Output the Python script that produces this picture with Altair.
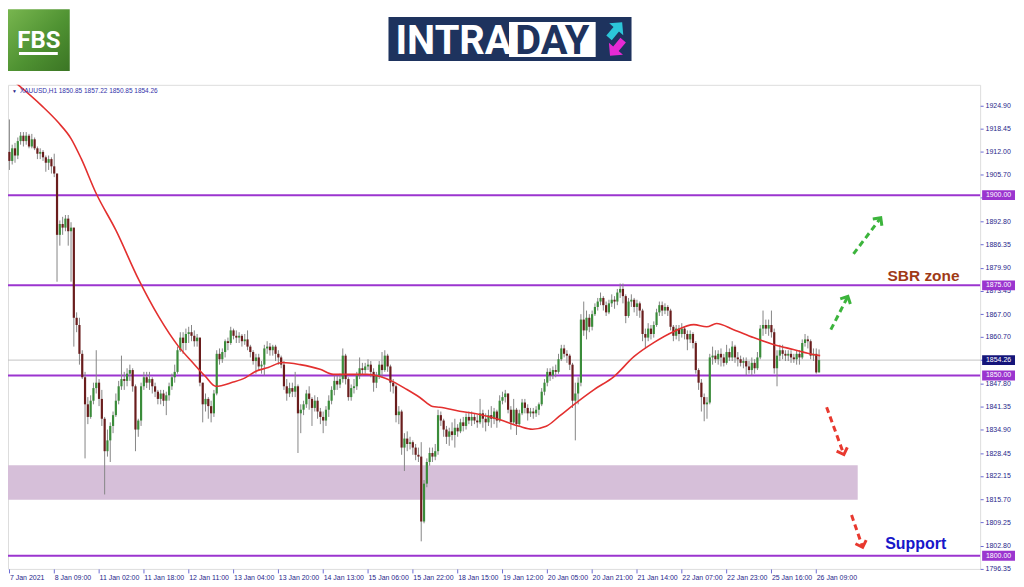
import math
import altair as alt
import pandas as pd

# ---------------- data ----------------
first_open = 1912.0
closes = [
    1909.5, 1913, 1911, 1915, 1916.5, 1915, 1916.5, 1913.5, 1915.5, 1913,
    1911.5, 1912, 1910.5, 1909, 1910, 1908, 1906, 1889, 1892, 1891,
    1893.5, 1890, 1891, 1866, 1864, 1856, 1849.5, 1842, 1838.5, 1843,
    1846.5, 1848, 1843.5, 1838, 1829, 1832, 1836, 1839, 1843, 1847,
    1849, 1848.5, 1850.5, 1851.5, 1847, 1835, 1837.5, 1847, 1849.5, 1848,
    1849, 1847, 1845.5, 1843.5, 1845, 1843, 1844.5, 1847, 1849.5, 1851,
    1857, 1860.5, 1859, 1861.5, 1862, 1861, 1859.5, 1860.5, 1848, 1842,
    1843.5, 1841.5, 1839.5, 1845, 1856, 1854.5, 1856.5, 1859.5, 1859, 1862.5,
    1861, 1860.5, 1861, 1859.5, 1860, 1858, 1856.5, 1854, 1855, 1852.5,
    1853, 1857.5, 1858, 1857, 1858, 1856, 1855, 1853, 1847, 1845,
    1846.5, 1845.5, 1847, 1839.5, 1840.5, 1842, 1845, 1843.5, 1841, 1843,
    1840, 1838.5, 1837.5, 1840.5, 1843, 1846, 1848.5, 1847.5, 1849, 1855.5,
    1849, 1844, 1846.5, 1847, 1850, 1852, 1851.5, 1852.5, 1853, 1851,
    1848, 1850, 1853, 1851.5, 1855.5, 1852.5, 1848, 1847, 1839, 1840,
    1830, 1832.5, 1831, 1831.5, 1830, 1828, 1827.5, 1809.5, 1820, 1826,
    1828.5, 1827.5, 1829, 1839, 1837.5, 1835, 1833, 1834.5, 1833.5, 1835.5,
    1834.5, 1837, 1836, 1838.5, 1837.5, 1838.5, 1837.5, 1837, 1839.5, 1838,
    1837, 1839, 1838, 1840, 1837.5, 1843, 1844, 1845, 1840.5, 1837,
    1840.5, 1836.5, 1839.5, 1842.5, 1841, 1839.5, 1840, 1839.5, 1840.5, 1842,
    1845.5, 1848, 1851, 1850, 1851.5, 1851, 1854.5, 1857.5, 1856, 1855.5,
    1853, 1843, 1845, 1848, 1865.5, 1862.5, 1866, 1863.5, 1867, 1869,
    1870.5, 1871.5, 1869.5, 1867.5, 1870, 1871, 1870.5, 1873, 1874, 1872,
    1866.5, 1870.5, 1871, 1869, 1870, 1868, 1861.5, 1860.5, 1863, 1861.5,
    1864, 1867.5, 1869.5, 1868, 1869, 1868, 1863.5, 1861, 1863, 1861.5,
    1863, 1861.5, 1860, 1861.5, 1859, 1851.5, 1848, 1844, 1842, 1842.5,
    1855, 1855.5, 1854.5, 1856, 1855, 1853.5, 1856.5, 1855, 1858, 1855,
    1854.5, 1853.5, 1854, 1852.5, 1851.5, 1853.5, 1852, 1855, 1863, 1864,
    1863, 1864, 1862, 1852, 1855.5, 1857, 1856, 1855.5, 1856, 1855,
    1854.5, 1856, 1855, 1859, 1860, 1859.5, 1855.5, 1856, 1850.85, 1854.26,
]
highs = [
    1921, 1914, 1914.5, 1916, 1917.5, 1917.5, 1917.5, 1917, 1917, 1916,
    1913.5, 1913, 1912.5, 1911, 1911, 1910.5, 1911.5, 1906, 1893, 1894,
    1894.5, 1894.5, 1892.5, 1891, 1867.5, 1866, 1857, 1851, 1844, 1844.5,
    1848, 1857, 1849, 1846, 1838.5, 1835, 1837, 1840, 1845, 1848.5,
    1855.5, 1851, 1852, 1853, 1852, 1847.5, 1838, 1848, 1851, 1851,
    1851, 1849.5, 1848, 1846, 1846, 1846, 1845.5, 1848, 1850.5, 1853,
    1858, 1862, 1862, 1863, 1863.5, 1864, 1862.5, 1861.5, 1860.5, 1848,
    1845, 1844, 1843, 1846, 1857, 1857.5, 1857.5, 1860, 1860.5, 1863.5,
    1863, 1862.5, 1862, 1861.5, 1861.5, 1862.5, 1858.5, 1857, 1856, 1856,
    1854, 1858.5, 1859.5, 1859, 1858.5, 1858.5, 1857, 1855.5, 1854, 1849,
    1848, 1848, 1851, 1847.5, 1842, 1843, 1846, 1847, 1844, 1844.5,
    1844, 1841, 1840, 1841.5, 1844.5, 1847, 1850, 1850, 1850.5, 1857.5,
    1856, 1849.5, 1847.5, 1849, 1851, 1855, 1853.5, 1853.5, 1854.5, 1854,
    1852, 1851, 1854, 1856.5, 1857, 1856, 1853, 1849, 1847.5, 1841.5,
    1840.5, 1834, 1834.5, 1833, 1832, 1831, 1830, 1831.5, 1821, 1827,
    1830, 1830, 1831, 1840.5, 1840, 1838, 1836, 1835.5, 1837, 1838,
    1836.5, 1838, 1838.5, 1839.5, 1840, 1840, 1839.5, 1839, 1843.5, 1840.5,
    1839.5, 1840.5, 1841.5, 1841, 1840.5, 1844.5, 1845.5, 1846, 1845, 1841.5,
    1843.5, 1841, 1840.5, 1843.5, 1843.5, 1842, 1841, 1841, 1841.5, 1842.5,
    1846.5, 1849, 1852, 1852, 1852.5, 1853, 1856, 1858.5, 1858.5, 1857,
    1856, 1853.5, 1848, 1849.5, 1867, 1870.5, 1868, 1867, 1868, 1870,
    1871.5, 1873, 1872, 1870.5, 1871, 1872.5, 1872, 1874, 1875.5, 1875.5,
    1872.5, 1871.5, 1872.5, 1871.5, 1871, 1870.5, 1868.5, 1863, 1864.5, 1864,
    1865, 1868.5, 1870.5, 1870.5, 1870, 1869.5, 1868.5, 1864, 1864, 1864,
    1864.5, 1863.5, 1862.5, 1862.5, 1862, 1859.5, 1852, 1849, 1845, 1844,
    1856, 1858, 1857, 1857, 1857.5, 1856, 1858.5, 1857.5, 1859.5, 1858.5,
    1856.5, 1855.5, 1855, 1855, 1854, 1855, 1854.5, 1856.5, 1864, 1868,
    1865.5, 1865.5, 1868, 1863, 1857, 1858.5, 1858.5, 1857, 1857, 1857,
    1856, 1857, 1857, 1860, 1861.5, 1861, 1860, 1857.5, 1857.5, 1857.22,
]
lows = [
    1907, 1908.5, 1909, 1910, 1914, 1913.5, 1914, 1913, 1913, 1912.5,
    1910, 1910, 1909.5, 1906.5, 1907, 1906, 1905, 1876, 1886, 1889,
    1890, 1886, 1876, 1858, 1862, 1853, 1849, 1827, 1836.5, 1838,
    1842, 1845, 1841.5, 1836, 1817, 1827.5, 1826, 1834, 1838.5, 1842,
    1846, 1846, 1847, 1848.5, 1845.5, 1829, 1833, 1836, 1846, 1846.5,
    1846, 1845, 1844, 1842, 1842, 1841.5, 1839, 1843, 1846, 1848,
    1850.5, 1856.5, 1856, 1857, 1859, 1859.5, 1858, 1858, 1847, 1837,
    1840, 1838, 1837, 1838.5, 1844.5, 1853, 1853.5, 1855, 1857, 1858.5,
    1860, 1859, 1859, 1858, 1858.5, 1857, 1855, 1853, 1850.5, 1851.5,
    1850.5, 1850, 1856, 1855.5, 1855.5, 1854, 1853, 1852, 1846, 1843,
    1844, 1844, 1844, 1828.5, 1834, 1839, 1841, 1840.5, 1836, 1840,
    1838, 1836.5, 1834, 1836, 1838.5, 1842, 1844.5, 1846, 1846.5, 1848,
    1847.5, 1843, 1843, 1845, 1846, 1849, 1850, 1850.5, 1851.5, 1849.5,
    1845.5, 1846.5, 1849, 1849.5, 1851, 1851, 1845.5, 1845, 1837, 1836.5,
    1828, 1823.5, 1829, 1829.5, 1828, 1826.5, 1826, 1804, 1809, 1819,
    1825, 1826, 1826.5, 1828, 1836, 1833, 1831, 1830.5, 1832, 1830,
    1833, 1834, 1834.5, 1835, 1836.5, 1836, 1836.5, 1835.5, 1836.5, 1835.5,
    1834.5, 1836, 1835.5, 1836.5, 1835.5, 1837, 1842, 1842.5, 1839.5, 1835,
    1836.5, 1833.5, 1836, 1839, 1839.5, 1837.5, 1838.5, 1838, 1838.5, 1839,
    1841.5, 1844.5, 1847, 1848.5, 1849, 1849.5, 1850.5, 1854, 1855, 1853.5,
    1851.5, 1841, 1832, 1842, 1847, 1861, 1860, 1862, 1862.5, 1866.5,
    1868, 1869.5, 1868, 1866.5, 1867, 1869, 1868.5, 1869.5, 1871.5, 1870,
    1864.5, 1866, 1869, 1867.5, 1866.5, 1866, 1859.5, 1857.5, 1859.5, 1860,
    1860.5, 1863.5, 1866.5, 1866.5, 1867, 1866.5, 1862.5, 1859.5, 1860, 1859.5,
    1860.5, 1860, 1857, 1859, 1857.5, 1850.5, 1846, 1840, 1837.3, 1838,
    1842, 1853, 1853.5, 1853, 1852.5, 1852.5, 1853, 1854, 1854, 1853.5,
    1852.5, 1852.5, 1852, 1850, 1850.5, 1850, 1850.5, 1851.5, 1854.5, 1861,
    1861.5, 1861, 1860.5, 1850.5, 1847, 1854, 1854.5, 1854, 1854, 1853.5,
    1853.5, 1853, 1853, 1854.5, 1858, 1857.5, 1854.5, 1854, 1850.5, 1850.85,
]
x_labels = [
    "7 Jan 2021", "8 Jan 09:00", "11 Jan 02:00", "11 Jan 18:00", "12 Jan 11:00",
    "13 Jan 04:00", "13 Jan 20:00", "14 Jan 13:00", "15 Jan 06:00", "15 Jan 22:00",
    "18 Jan 15:00", "19 Jan 12:00", "20 Jan 05:00", "20 Jan 21:00", "21 Jan 14:00",
    "22 Jan 07:00", "22 Jan 23:00", "25 Jan 16:00", "26 Jan 09:00",
]
x_label_bars = [0, 16, 32, 48, 64, 80, 96, 112, 128, 144, 160, 176, 192, 208,
                224, 240, 256, 272, 288]
y_ticks = [1924.90, 1918.45, 1912.00, 1905.70, 1899.25, 1892.80, 1886.35, 1879.90,
           1873.45, 1867.00, 1860.70, 1854.25, 1847.80, 1841.35, 1834.90, 1828.45,
           1822.15, 1815.70, 1809.25, 1802.80, 1796.35]
ma_bar = [2.5, 11.4, 17.4, 22, 25.6, 30.9, 38, 46.2, 53.3, 60.4, 65.4, 70, 73.6,
          79.6, 84.3, 87.8, 92.4, 97.4, 103.8, 110.9, 115.6, 120.5, 127.6, 132.3,
          136.9, 141.9, 146.5, 151.1, 153.6, 160.7, 167.8, 174.9, 182, 186.7, 191.6,
          196.3, 201.6, 208.7, 215.8, 222.9, 230, 237.2, 244.3, 248.9, 252.4, 258.5,
          265.6, 272.7, 279.8, 286.9, 289.4]
ma_val = [1931.0, 1924.9, 1920.2, 1915.7, 1910.2, 1900.6, 1890.3, 1876.5, 1866.3,
          1858.0, 1853.6, 1849.7, 1847.0, 1848.1, 1849.4, 1851.1, 1852.2, 1853.6,
          1853.0, 1851.7, 1850.3, 1850.3, 1850.3, 1849.7, 1848.3, 1846.1, 1843.9,
          1841.4, 1841.2, 1840.1, 1839.2, 1837.8, 1835.9, 1835.1, 1835.9, 1838.7,
          1842.0, 1846.1, 1849.7, 1855.2, 1859.1, 1862.2, 1864.1, 1863.5, 1864.4,
          1862.7, 1860.5, 1858.6, 1857.2, 1855.8, 1855.5]
levels = [1900.0, 1875.0, 1850.0, 1800.0]
last_price = 1854.26
zone_low = 1815.5
zone_high = 1825.1
zone_start_bar = -0.5
zone_end_bar = 302.8
arrow_x1 = [293.2, 301.3, 291.7, 300.6]
arrow_y1 = [1862.7, 1883.7, 1841.2, 1811.3]
arrow_x2 = [299.2, 310.9, 297.8, 304.5]
arrow_y2 = [1871.8, 1893.6, 1828.2, 1802.5]
arrow_kind = ["up", "up", "down", "down"]
sbr_text = "SBR zone"
sbr_bar, sbr_price = 326.3, 1877.6
support_text = "Support"
support_bar, support_price = 323.5, 1803.3
header_text = "XAUUSD,H1  1850.85 1857.22 1850.85 1854.26"

# ---------------- layout constants ----------------
W, H = 976, 486
X_DOM = [-0.5, 346.5]
Y_DOM = [1796.35, 1930.6]
FRAME = "#6b6bd6"
NAVY = "#1f1f8a"
PURPLE = "#9b35cf"
FONT = "Liberation Sans"

opens = [first_open] + closes[:-1]
candles = pd.DataFrame({
    "bar": list(range(len(closes))),
    "open": opens, "high": highs, "low": lows, "close": closes,
})

xs = alt.Scale(domain=X_DOM, nice=False, zero=False)
ys = alt.Scale(domain=Y_DOM, nice=False, zero=False)

label_array = "[" + ",".join("'" + s + "'" for s in x_labels) + "]"
bars_array = "[" + ",".join(str(v) for v in x_label_bars) + "]"
x_axis = alt.Axis(values=x_label_bars,
                  labelExpr=label_array + "[indexof(" + bars_array + ", datum.value)]",
                  labelAlign="left", labelFontSize=7, labelColor=NAVY, labelFont=FONT,
                  tickSize=4, tickColor=FRAME, labelPadding=1, labelOverlap=False,
                  labelFlush=False, grid=False, domain=False, title=None)
y_axis = alt.Axis(orient="right", values=y_ticks, format=".2f", labelFontSize=7,
                  labelColor=NAVY, labelFont=FONT, tickSize=3, tickColor=FRAME,
                  labelPadding=2, labelOverlap=False, grid=False, domain=False,
                  title=None)


def Xn(f):
    return alt.X(f, scale=xs, axis=x_axis)


def Yn(f):
    return alt.Y(f, scale=ys, axis=y_axis)


# zone
zone_df = pd.DataFrame({"x1": [zone_start_bar], "x2": [zone_end_bar],
                        "lo": [zone_low], "hi": [zone_high]})
zone = alt.Chart(zone_df).mark_rect(color="#d6bfd9").encode(
    x=Xn("x1:Q"), x2="x2:Q", y=Yn("lo:Q"), y2="hi:Q")

lv_df = pd.DataFrame({"level": levels})
level_lines = alt.Chart(lv_df).mark_rule(color=PURPLE, strokeWidth=2).encode(
    y=Yn("level:Q"))
lp_df = pd.DataFrame({"level": [last_price]})
last_line = alt.Chart(lp_df).mark_rule(color="#c4c4c4", strokeWidth=1).encode(
    y=Yn("level:Q"))

wicks = alt.Chart(candles).mark_rule(color="#858585", strokeWidth=1).encode(
    x=Xn("bar:Q"), y=Yn("low:Q"), y2="high:Q")
bodies = alt.Chart(candles).mark_rule(strokeWidth=2.2, strokeCap="butt").encode(
    x=Xn("bar:Q"), y=Yn("open:Q"), y2="close:Q",
    color=alt.condition("datum.close >= datum.open", alt.value("#3a8c3a"),
                        alt.value("#6a1d1d")))

ma_df = pd.DataFrame({"bar": ma_bar, "val": ma_val})
ma = alt.Chart(ma_df).mark_line(color="#e3302f", strokeWidth=1.6, clip=True,
                                interpolate="monotone").encode(
    x=Xn("bar:Q"), y=Yn("val:Q"))

ppb = W / (X_DOM[1] - X_DOM[0])
ppp = H / (Y_DOM[1] - Y_DOM[0])
angles = [math.degrees(math.atan2((b - a) * ppb, (d - c) * ppp))
          for a, b, c, d in zip(arrow_x1, arrow_x2, arrow_y1, arrow_y2)]
ar_df = pd.DataFrame({"x1": arrow_x1, "y1": arrow_y1, "x2": arrow_x2,
                      "y2": arrow_y2, "kind": arrow_kind, "angle": angles})
ar_color = alt.Color("kind:N", scale=alt.Scale(domain=["up", "down"],
                                               range=["#3cb43c", "#e8392f"]),
                     legend=None)
arrow_lines = alt.Chart(ar_df).mark_rule(strokeWidth=3, strokeDash=[6, 4]).encode(
    x=Xn("x1:Q"), y=Yn("y1:Q"), x2="x2:Q", y2="y2:Q", color=ar_color)
arrow_heads = alt.Chart(ar_df).mark_point(
    shape="M -1 0.9 L 0 -0.1 L 1 0.9", filled=False, strokeWidth=3, size=130,
    opacity=1).encode(x=Xn("x2:Q"), y=Yn("y2:Q"), color=ar_color,
                      angle=alt.Angle("angle:Q", scale=None))

sbr = alt.Chart(pd.DataFrame({"b": [sbr_bar], "p": [sbr_price], "t": [sbr_text]})
                ).mark_text(font=FONT, fontSize=15.5, fontWeight="bold",
                            color="#a03a16").encode(
    x=Xn("b:Q"), y=Yn("p:Q"), text="t:N")
sup = alt.Chart(pd.DataFrame({"b": [support_bar], "p": [support_price],
                              "t": [support_text]})
                ).mark_text(font=FONT, fontSize=16, fontWeight="bold",
                            color="#1717c9").encode(
    x=Xn("b:Q"), y=Yn("p:Q"), text="t:N")

box_shape = "M -1 -0.3 L 1 -0.3 L 1 0.3 L -1 0.3 Z"
lv_boxes = alt.Chart(lv_df).mark_point(shape=box_shape, filled=True, size=33 * 33,
                                       opacity=1, color=PURPLE).encode(
    x=alt.value(994.5), y=Yn("level:Q"))
lv_text = alt.Chart(lv_df).mark_text(font=FONT, fontSize=7, color="white").encode(
    x=alt.value(994.5), y=Yn("level:Q"), text=alt.Text("level:Q", format=".2f"))
lp_box = alt.Chart(lp_df).mark_point(shape=box_shape, filled=True, size=33 * 33,
                                     opacity=1, color="#15157a").encode(
    x=alt.value(994.5), y=Yn("level:Q"))
lp_text = alt.Chart(lp_df).mark_text(font=FONT, fontSize=7, color="white").encode(
    x=alt.value(994.5), y=Yn("level:Q"), text=alt.Text("level:Q", format=".2f"))

one = pd.DataFrame({"a": [0]})
hdr_tri = alt.Chart(one).mark_text(text="▼", fontSize=5, color=NAVY, align="left",
                                   baseline="middle").encode(
    x=alt.value(4), y=alt.value(6))
hdr = alt.Chart(one).mark_text(text=header_text, font=FONT, fontSize=6.5,
                               color="#3333aa", align="left",
                               baseline="middle").encode(
    x=alt.value(12), y=alt.value(6))

# logos (drawn in top padding)
fbs_grad = alt.Gradient(gradient="linear", x1=0, y1=0, x2=1, y2=1,
                        stops=[alt.GradientStop(color="#78b64f", offset=0),
                               alt.GradientStop(color="#4f9232", offset=0.55),
                               alt.GradientStop(color="#3b7524", offset=1)])
fbs_box = alt.Chart(one).mark_rect(color=fbs_grad).encode(
    x=alt.value(0), x2=alt.value(62), y=alt.value(-76), y2=alt.value(-14))
fbs_txt = alt.Chart(one).mark_text(text="FBS", font="Liberation Sans Narrow, Roboto",
                                   fontSize=24, fontWeight="bold", color="white",
                                   align="center", baseline="alphabetic").encode(
    x=alt.value(31), y=alt.value(-37))
fbs_bar = alt.Chart(one).mark_rect(color="white").encode(
    x=alt.value(11), x2=alt.value(50), y=alt.value(-33), y2=alt.value(-30))

intra_box = alt.Chart(one).mark_rect(color="#1e335e").encode(
    x=alt.value(382), x2=alt.value(626), y=alt.value(-68), y2=alt.value(-24))
day_box = alt.Chart(one).mark_rect(color="white").encode(
    x=alt.value(503), x2=alt.value(590), y=alt.value(-63), y2=alt.value(-28))
intra_txt = alt.Chart(one).mark_text(text="INTRA", font="Liberation Sans Narrow, Roboto",
                                     fontSize=40, fontWeight="bold", color="white",
                                     align="left", baseline="alphabetic").encode(
    x=alt.value(389), y=alt.value(-31))
day_txt = alt.Chart(one).mark_text(text="DAY", font="Liberation Sans Narrow, Roboto",
                                   fontSize=40, fontWeight="bold", color="#1e335e",
                                   align="center", baseline="alphabetic").encode(
    x=alt.value(546.5), y=alt.value(-31))
arrow_shape = "M -0.35 1 L -0.35 -0.1 L -0.9 -0.1 L 0 -1 L 0.9 -0.1 L 0.35 -0.1 L 0.35 1 Z"
cyan_arrow = alt.Chart(one).mark_point(shape=arrow_shape, filled=True, size=420,
                                       opacity=1, color="#2cc6d9", angle=40).encode(
    x=alt.value(610), y=alt.value(-55))
mag_arrow = alt.Chart(one).mark_point(shape=arrow_shape, filled=True, size=420,
                                      opacity=1, color="#e62ad4", angle=220).encode(
    x=alt.value(611), y=alt.value(-37))

chart = alt.layer(
    zone, level_lines, last_line, wicks, bodies, ma, arrow_lines, arrow_heads,
    sbr, sup, lv_boxes, lv_text, lp_box, lp_text, hdr_tri, hdr,
    fbs_box, fbs_txt, fbs_bar, intra_box, day_box, intra_txt, day_txt,
    cyan_arrow, mag_arrow,
).properties(
    width=W, height=H,
    autosize=alt.AutoSizeParams(type="none"),
    padding={"left": 0, "top": 76, "right": 36, "bottom": 16},
).configure_view(stroke=FRAME, strokeWidth=1).configure(background="white")

chart.save("out.html", embed_options={"renderer": "svg", "actions": False})
